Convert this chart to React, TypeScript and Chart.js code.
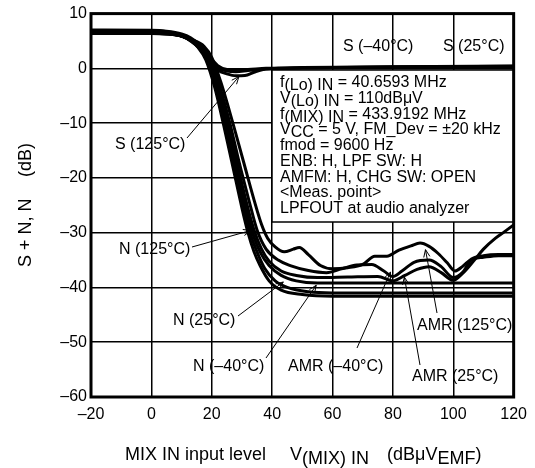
import React, { useEffect, useRef } from "react";
import { Chart, registerables } from "chart.js";

Chart.register(...registerables);

// ---- axis ticks ----
const X_TICKS = [-20, 0, 20, 40, 60, 80, 100, 120];
const Y_TICKS = [-60, -50, -40, -30, -20, -10, 0, 10];

// ---- series values: [MIX IN level (dBuV EMF), S+N / N (dB)] ----
const S_M40: [number, number][] = [
  [-20, 7.0], [0, 6.95], [5, 6.8], [10, 6.3], [13, 5.6], [16, 4.3], [19, 2.3], [22, 0.5],
  [25, -0.2], [28, -0.3], [32, -0.2], [38, 0], [50, 0.15], [80, 0.3], [120, 0.45],
];
const S_25: [number, number][] = [
  [-20, 6.9], [0, 6.85], [5, 6.7], [10, 6.1], [13, 5.3], [16, 3.9], [19, 1.8], [22, 0.1],
  [25, -0.5], [28, -0.6], [32, -0.4], [38, -0.1], [50, 0.1], [80, 0.25], [120, 0.4],
];
const S_125: [number, number][] = [
  [-20, 6.8], [0, 6.75], [5, 6.6], [10, 6.0], [13, 5.1], [16, 3.6], [19, 1.5], [22, -0.3],
  [25, -1.0], [28, -1.35], [31, -1.3], [34, -0.7], [37, -0.2], [42, 0], [60, 0.15], [120, 0.35],
];
const N_125: [number, number][] = [
  [-20, 6.7], [0, 6.65], [5, 6.5], [10, 5.9], [13, 5.0], [15.5, 3.8], [18, 1.6], [21, -3.5],
  [24, -10.5], [27, -18], [30, -25.5], [32, -30], [34, -33.5], [36, -36], [39, -38.8],
  [43, -40.5], [50, -41.3], [60, -41.6], [120, -41.6],
];
const N_25: [number, number][] = [
  [-20, 6.6], [0, 6.55], [5, 6.4], [10, 5.9], [13, 5.1], [16, 3.8], [18.5, 2], [21.5, -3],
  [24.5, -10], [27.5, -17.5], [30.5, -25], [33, -30.5], [35, -33.5], [37.5, -36.5], [41, -38.8],
  [45, -40], [52, -40.8], [60, -41], [120, -41],
];
const N_M40: [number, number][] = [
  [-20, 6.5], [0, 6.5], [5, 6.4], [10, 5.9], [13, 5.2], [16.5, 3.8], [19, 2], [22, -3],
  [25, -10], [28, -17.5], [31, -25], [33.5, -30], [36, -33.5], [39, -36], [43, -37.8],
  [48, -38.8], [55, -39.2], [120, -39.2],
];
const AMR_M40: [number, number][] = [
  [-20, 6.45], [0, 6.45], [5, 6.35], [10, 5.9], [13, 5.2], [16.5, 4], [19, 2], [22, -3],
  [25.5, -10], [28.5, -17.5], [31.5, -24.5], [34, -29.5], [36.5, -33], [39, -35.2], [43, -37],
  [48, -37.8], [55, -38.2], [65, -38.1], [75, -38], [80, -38.8], [84, -37.8], [88, -36.7],
  [92, -36.2], [96, -37.3], [100, -38.7], [103, -37.5], [107, -35], [110, -33], [114, -31],
  [117, -29.8], [120, -28.6],
];
const AMR_25: [number, number][] = [
  [-20, 6.4], [0, 6.4], [5, 6.3], [10, 5.9], [13, 5.3], [17, 4], [19.5, 2], [22.5, -3],
  [26, -10], [29, -17], [32.5, -24.5], [35, -29.5], [38, -33], [42, -35], [46, -36],
  [52, -36.9], [58, -37.3], [63, -36.6], [68, -35.9], [73, -35.8], [77, -37], [80, -38],
  [83, -37], [87, -35.4], [92, -35], [96, -36.2], [100, -38.2], [103, -37.3], [106, -35],
  [110, -34.5], [115, -34.2], [120, -34.2],
];
const AMR_125: [number, number][] = [
  [-20, 6.35], [0, 6.35], [5, 6.25], [10, 5.9], [13, 5.3], [17.5, 4], [20, 2], [23, -2.5],
  [27, -10], [30.5, -17], [34, -24], [36.5, -28.5], [38.5, -31], [41, -32.6], [44, -33.5],
  [47, -33], [49, -32.7], [52, -34], [56, -36], [60, -36.6], [65, -36.4], [70, -35.8],
  [74, -34.3], [78, -34.3], [82, -33.2], [86, -32.4], [89, -31.9], [92, -32.5], [95, -33.8],
  [98, -35.5], [100.5, -37], [103, -36.2], [106, -34.8], [110, -34.2], [115, -34], [120, -34],
];

const SERIES: { name: string; data: [number, number][] }[] = [
  { name: "S (-40°C)", data: S_M40 },
  { name: "S (25°C)", data: S_25 },
  { name: "S (125°C)", data: S_125 },
  { name: "N (125°C)", data: N_125 },
  { name: "N (25°C)", data: N_25 },
  { name: "N (-40°C)", data: N_M40 },
  { name: "AMR (-40°C)", data: AMR_M40 },
  { name: "AMR (25°C)", data: AMR_25 },
  { name: "AMR (125°C)", data: AMR_125 },
];

// ---- annotation labels (text, label position in px, arrow tip in data units) ----
const LABELS: { text: string; lx: number; ly: number; ax?: number; ay?: number; tip?: [number, number] }[] = [
  { text: "S (–40°C)", lx: 343, ly: 47 },
  { text: "S (25°C)", lx: 443, ly: 47 },
  { text: "S (125°C)", lx: 115, ly: 145, ax: 187, ay: 138, tip: [29, -1.5] },
  { text: "N (125°C)", lx: 119, ly: 250, ax: 192, ay: 247, tip: [32.9, -29.6] },
  { text: "N (25°C)", lx: 173, ly: 321, ax: 238, ay: 316, tip: [43.7, -39.0] },
  { text: "N (–40°C)", lx: 193, ly: 367, ax: 266, ay: 358, tip: [54.6, -39.6] },
  { text: "AMR (–40°C)", lx: 288, ly: 367, ax: 357, ay: 348, tip: [79.2, -37.2] },
  { text: "AMR (25°C)", lx: 412, ly: 377, ax: 420, ay: 365, tip: [83.8, -38.1] },
  { text: "AMR (125°C)", lx: 417, ly: 326, ax: 437, ay: 313, tip: [90.8, -33.1] },
];

// ---- conditions box text: [text, isSubscript] segments ----
const CONDITIONS: [string, boolean][][] = [
  [["f", false], ["(Lo) IN", true], [" = 40.6593 MHz", false]],
  [["V", false], ["(Lo) IN", true], [" = 110dBμV", false]],
  [["f", false], ["(MIX) IN", true], [" = 433.9192 MHz", false]],
  [["V", false], ["CC", true], [" = 5 V, FM_Dev = ±20 kHz", false]],
  [["fmod = 9600 Hz", false]],
  [["ENB: H, LPF SW: H", false]],
  [["AMFM: H, CHG SW: OPEN", false]],
  [["<Meas. point>", false]],
  [["LPFOUT at audio analyzer", false]],
];

const FONT = "'Liberation Sans', Arial, Helvetica, sans-serif";

const fmt = (v: number) => (v < 0 ? "–" + Math.abs(v) : String(v));

function drawSegs(ctx: CanvasRenderingContext2D, segs: [string, boolean][], x: number, y: number, sub: number) {
  let cx = x;
  for (const [t, isSub] of segs) {
    ctx.fillText(t, cx, y + (isSub ? sub : 0));
    cx += ctx.measureText(t).width;
  }
}

const overlay = {
  id: "overlay",
  afterDatasetsDraw(chart: any) {
    const ctx: CanvasRenderingContext2D = chart.ctx;
    const { right } = chart.chartArea;
    ctx.save();
    // conditions box
    const bx = 272, by = 70, bw = right - 272, bh = 152;
    ctx.fillStyle = "#fff";
    ctx.fillRect(bx, by, bw, bh);
    ctx.strokeStyle = "#000";
    ctx.lineWidth = 1.5;
    ctx.strokeRect(bx, by, bw, bh);
    ctx.fillStyle = "#000";
    ctx.font = `16px ${FONT}`;
    ctx.textBaseline = "alphabetic";
    ctx.textAlign = "left";
    CONDITIONS.forEach((line, i) => drawSegs(ctx, line, 280, 87 + i * 15.75, 3));
    ctx.restore();
  },
  afterDraw(chart: any) {
    const ctx: CanvasRenderingContext2D = chart.ctx;
    const { left, top, right, bottom } = chart.chartArea;
    const xs = chart.scales.x, ys = chart.scales.y;
    ctx.save();
    // frame
    ctx.strokeStyle = "#000";
    ctx.lineWidth = 3;
    ctx.strokeRect(left, top, right - left, bottom - top);

    // annotations
    ctx.fillStyle = "#000";
    ctx.font = `16px ${FONT}`;
    ctx.textAlign = "left";
    ctx.textBaseline = "middle";
    ctx.lineWidth = 1;
    for (const l of LABELS) {
      ctx.fillText(l.text, l.lx, l.ly);
      if (l.tip && l.ax !== undefined && l.ay !== undefined) {
        const tx = xs.getPixelForValue(l.tip[0]);
        const ty = ys.getPixelForValue(l.tip[1]);
        ctx.beginPath();
        ctx.moveTo(l.ax, l.ay);
        ctx.lineTo(tx, ty);
        const ang = Math.atan2(ty - l.ay, tx - l.ax);
        const hl = 8, ha = 0.4;
        ctx.moveTo(tx - hl * Math.cos(ang - ha), ty - hl * Math.sin(ang - ha));
        ctx.lineTo(tx, ty);
        ctx.lineTo(tx - hl * Math.cos(ang + ha), ty - hl * Math.sin(ang + ha));
        ctx.stroke();
      }
    }

    // axis titles
    ctx.font = `18px ${FONT}`;
    ctx.textBaseline = "alphabetic";
    drawSegs(ctx, [["MIX IN input level", false]], 125, 460, 4);
    drawSegs(ctx, [["V", false], ["(MIX) IN", true]], 290, 460, 4);
    drawSegs(ctx, [["(dBμV", false], ["EMF", true], [")", false]], 387, 460, 4);

    ctx.save();
    ctx.translate(31, 267);
    ctx.rotate(-Math.PI / 2);
    ctx.fillText("S + N, N", 0, 0);
    ctx.fillText("(dB)", 90, 0);
    ctx.restore();

    ctx.restore();
  },
};

export default function App() {
  const ref = useRef<HTMLCanvasElement>(null);
  useEffect(() => {
    if (!ref.current) return;
    const chart = new Chart(ref.current, {
      type: "line",
      data: {
        datasets: SERIES.map((s) => ({
          label: s.name,
          data: s.data.map(([x, y]) => ({ x, y })),
          borderColor: "#000",
          borderWidth: 3,
          pointRadius: 0,
          fill: false,
          cubicInterpolationMode: "monotone" as const,
        })),
      },
      options: {
        animation: false,
        responsive: false,
        devicePixelRatio: 1,
        layout: { padding: { top: 13, right: 18, left: 0, bottom: 0 } },
        plugins: { legend: { display: false }, tooltip: { enabled: false }, title: { display: false } },
        scales: {
          x: {
            type: "linear",
            min: -20,
            max: 120,
            afterBuildTicks: (s: any) => { s.ticks = X_TICKS.map((v) => ({ value: v })); },
            afterFit: (s: any) => { s.height = 71; },
            ticks: {
              color: "#000",
              font: { family: FONT, size: 16 },
              padding: 8,
              maxRotation: 0,
              callback: (v: any) => fmt(Number(v)),
            },
            grid: { color: "#000", lineWidth: 1.5, drawTicks: false },
            border: { display: false },
          },
          y: {
            type: "linear",
            min: -60,
            max: 10,
            afterBuildTicks: (s: any) => { s.ticks = Y_TICKS.map((v) => ({ value: v })); },
            afterFit: (s: any) => { s.width = 91; },
            ticks: {
              color: "#000",
              font: { family: FONT, size: 16 },
              padding: 4,
              callback: (v: any) => fmt(Number(v)),
            },
            grid: { color: "#000", lineWidth: 1.5, drawTicks: false },
            border: { display: false },
          },
        },
      },
      plugins: [overlay],
    });
    return () => chart.destroy();
  }, []);
  return (
    <div style={{ position: "absolute", left: 0, top: 0, width: 535, height: 468, background: "#fff" }}>
      <canvas ref={ref} width={535} height={468} />
    </div>
  );
}
